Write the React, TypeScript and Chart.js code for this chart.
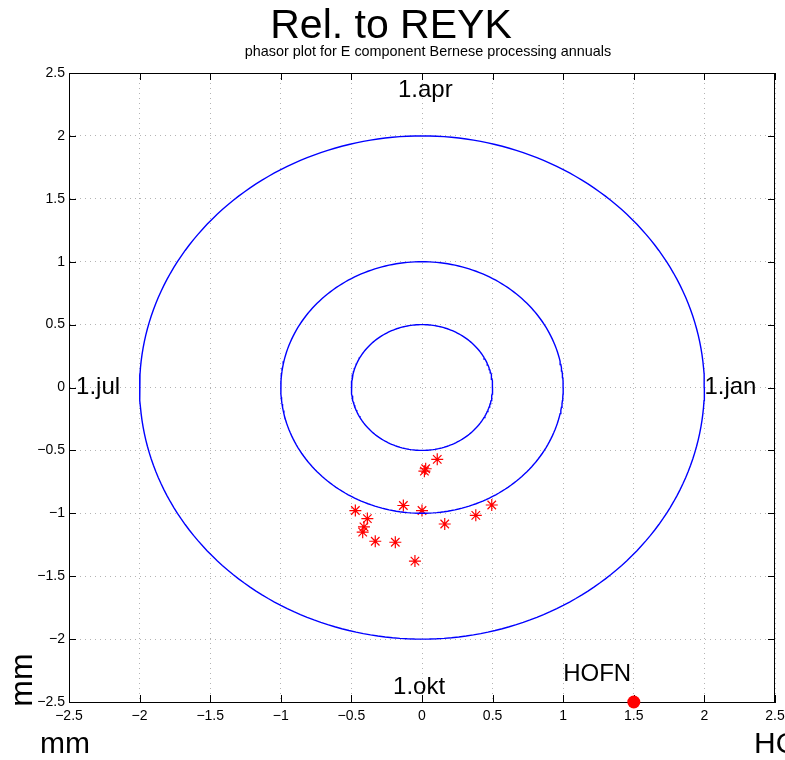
import React, { useEffect, useRef } from "react";
import { Chart, registerables } from "chart.js";

Chart.register(...registerables);

// ---- data ----
const circleRadii = [0.5, 1, 2];
const phasorX = [0.108, 0.026, 0.017, -0.132, 0.0, -0.472, -0.387, -0.411, -0.42, -0.331, -0.189, -0.05, 0.161, 0.381, 0.494];
const phasorY = [-0.571, -0.646, -0.665, -0.938, -0.978, -0.978, -1.042, -1.108, -1.15, -1.222, -1.23, -1.38, -1.085, -1.016, -0.934];
const stationX = [1.5];
const stationY = [-2.5];
const labelTexts = ["1.apr", "1.jul", "1.jan", "1.okt", "HOFN"];
const labelX = [-0.17, -2.45, 2.0, -0.205, 1.0];
const labelY = [2.365, 0, 0, -2.38, -2.28];
const axisMin = -2.5;
const axisMax = 2.5;
const tickStep = 0.5;
const titleText = "Rel. to REYK";
const subtitleText = "phasor plot for E component Bernese processing annuals";

const FONT = "'Liberation Sans', Arial, Helvetica, sans-serif";

function circlePoints(r: number) {
  const pts: { x: number; y: number }[] = [];
  const n = 240;
  for (let i = 0; i <= n; i++) {
    const t = (i / n) * Math.PI * 2;
    pts.push({ x: r * Math.cos(t), y: r * Math.sin(t) });
  }
  return pts;
}

const decorPlugin = {
  id: "decor",
  beforeDatasetsDraw(chart: any) {
    const { ctx, chartArea, scales } = chart;
    const xs = scales.x;
    const ys = scales.y;
    ctx.save();
    ctx.strokeStyle = "#000";
    ctx.lineWidth = 1;
    ctx.strokeRect(chartArea.left + 0.5, chartArea.top + 0.5, chartArea.right - chartArea.left - 1, chartArea.bottom - chartArea.top);
    const tl = 7;
    ctx.beginPath();
    xs.ticks.forEach((t: any) => {
      const px = Math.round(xs.getPixelForValue(t.value)) + 0.5;
      ctx.moveTo(px, chartArea.bottom);
      ctx.lineTo(px, chartArea.bottom - tl);
      ctx.moveTo(px, chartArea.top);
      ctx.lineTo(px, chartArea.top + tl);
    });
    ys.ticks.forEach((t: any) => {
      const py = Math.round(ys.getPixelForValue(t.value)) + 0.5;
      ctx.moveTo(chartArea.left, py);
      ctx.lineTo(chartArea.left + tl, py);
      ctx.moveTo(chartArea.right, py);
      ctx.lineTo(chartArea.right - tl, py);
    });
    ctx.stroke();
    ctx.restore();
  },
  afterDatasetsDraw(chart: any) {
    const { ctx, scales } = chart;
    const xs = scales.x;
    const ys = scales.y;
    ctx.save();
    ctx.fillStyle = "#000";
    ctx.font = `24px ${FONT}`;
    ctx.textAlign = "left";
    ctx.textBaseline = "middle";
    labelTexts.forEach((s, i) => {
      ctx.fillText(s, xs.getPixelForValue(labelX[i]), ys.getPixelForValue(labelY[i]));
    });

    ctx.textAlign = "center";
    ctx.textBaseline = "alphabetic";
    ctx.font = `41px ${FONT}`;
    ctx.fillText(titleText, 391, 38);
    ctx.font = `14.4px ${FONT}`;
    ctx.fillText(subtitleText, 428, 56);

    ctx.font = `30px ${FONT}`;
    ctx.textAlign = "left";
    ctx.fillText("mm", 40, 753);
    ctx.fillText("HOFN", 754, 753);
    ctx.save();
    ctx.translate(32, 680);
    ctx.rotate(-Math.PI / 2);
    ctx.textAlign = "center";
    ctx.font = `32px ${FONT}`;
    ctx.fillText("mm", 0, 0);
    ctx.restore();
    ctx.restore();
  },
};

export default function App() {
  const ref = useRef<HTMLCanvasElement | null>(null);
  useEffect(() => {
    document.body.style.margin = "0";
    const canvas = ref.current!;
    const datasets: any[] = circleRadii.map((r) => ({
      type: "line",
      data: circlePoints(r),
      borderColor: "rgb(0,0,255)",
      borderWidth: 1.4,
      pointRadius: 0,
      showLine: true,
      fill: false,
      tension: 0,
    }));
    datasets.push({
      type: "scatter",
      data: phasorX.map((x, i) => ({ x, y: phasorY[i] })),
      pointStyle: "star",
      pointRadius: 6,
      borderColor: "rgb(255,0,0)",
      backgroundColor: "rgb(255,0,0)",
      borderWidth: 1.2,
    });
    datasets.push({
      type: "scatter",
      data: stationX.map((x, i) => ({ x, y: stationY[i] })),
      pointStyle: "circle",
      pointRadius: 6.5,
      borderColor: "rgb(255,0,0)",
      backgroundColor: "rgb(255,0,0)",
      borderWidth: 0,
      clip: false,
    });
    const tickCb = (v: any) => String(v).replace("-", "\u2212");
    const chart = new Chart(canvas, {
      type: "scatter",
      data: { datasets },
      plugins: [decorPlugin],
      options: {
        responsive: false,
        animation: false,
        devicePixelRatio: 1,
        layout: { padding: { top: 73, right: 10, left: 0, bottom: 0 } },
        plugins: { legend: { display: false }, tooltip: { enabled: false }, title: { display: false } },
        scales: {
          x: {
            type: "linear",
            min: axisMin,
            max: axisMax,
            ticks: { stepSize: tickStep, callback: tickCb, color: "#000", font: { family: FONT, size: 14 }, padding: 6, maxRotation: 0 },
            grid: { color: "#b4b4b4", drawTicks: false, lineWidth: 1 },
            border: { display: true, color: "#000", dash: [1, 4] },
            afterFit: (s: any) => { s.height = 58; s.paddingLeft = 0; s.paddingRight = 0; },
          },
          y: {
            type: "linear",
            min: axisMin,
            max: axisMax,
            ticks: { stepSize: tickStep, callback: tickCb, color: "#000", font: { family: FONT, size: 14 }, padding: 4 },
            grid: { color: "#b4b4b4", drawTicks: false, lineWidth: 1 },
            border: { display: true, color: "#000", dash: [1, 4] },
            afterFit: (s: any) => { s.width = 69; s.paddingTop = 0; s.paddingBottom = 0; },
          },
        },
      } as any,
    });
    return () => chart.destroy();
  }, []);
  return (
    <div style={{ position: "absolute", left: 0, top: 0, width: 785, height: 760, background: "#fff" }}>
      <canvas ref={ref} width={785} height={760} style={{ display: "block" }} />
    </div>
  );
}
